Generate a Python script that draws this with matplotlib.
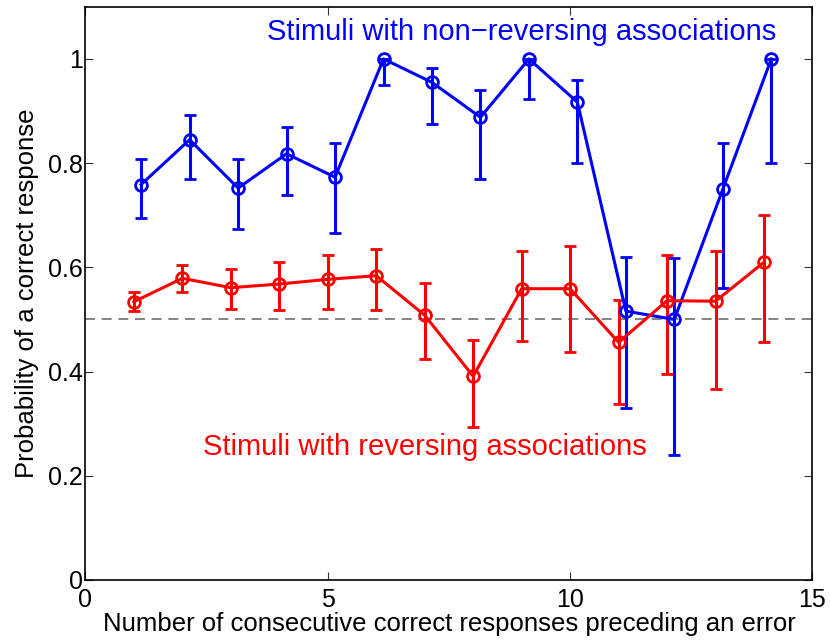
import matplotlib
matplotlib.use('Agg')
import matplotlib.pyplot as plt
import numpy as np

# Data
runs = [1, 2, 3, 4, 5, 6, 7, 8, 9, 10, 11, 12, 13, 14]

nonrev_mean = [0.759, 0.845, 0.752, 0.818, 0.773, 1.0, 0.955, 0.888, 1.0, 0.917, 0.516, 0.50, 0.750, 1.0]
nonrev_hi = [0.807, 0.892, 0.807, 0.869, 0.839, 1.0, 0.982, 0.941, 1.0, 0.960, 0.619, 0.617, 0.839, 1.0]
nonrev_lo = [0.694, 0.770, 0.673, 0.738, 0.666, 0.950, 0.875, 0.770, 0.923, 0.800, 0.330, 0.239, 0.561, 0.800]

rev_mean = [0.534, 0.579, 0.561, 0.568, 0.577, 0.584, 0.508, 0.391, 0.559, 0.559, 0.456, 0.536, 0.535, 0.610]
rev_hi = [0.552, 0.605, 0.596, 0.610, 0.624, 0.635, 0.570, 0.460, 0.631, 0.641, 0.537, 0.624, 0.632, 0.701]
rev_lo = [0.516, 0.552, 0.521, 0.518, 0.520, 0.519, 0.425, 0.294, 0.459, 0.438, 0.337, 0.396, 0.366, 0.456]

plt.rcParams['font.family'] = ['Liberation Sans', 'DejaVu Sans']

fig = plt.figure(figsize=(8.3, 6.44), dpi=100)
ax = fig.add_axes([0.1029, 0.0994, 0.876, 0.890])

def draw(x, m, lo, hi, color):
    m = np.array(m)
    yerr = [m - np.array(lo), np.array(hi) - m]
    ax.errorbar(x, m, yerr=yerr, color=color, linewidth=2.2, elinewidth=2.2,
                capsize=4, capthick=2.2, marker='o', markersize=8.5,
                markerfacecolor='none', markeredgewidth=2, zorder=3)

ax.plot([0, 15], [0.5, 0.5], '--', color='#707070', linewidth=1.2, dashes=(6, 4), zorder=1)

draw(np.array(runs) + 0.15, nonrev_mean, nonrev_lo, nonrev_hi, '#0000ff')
draw(np.array(runs), rev_mean, rev_lo, rev_hi, '#ff0000')

ax.text(8.99, 1.051, 'Stimuli with non\u2212reversing associations', color='#0000ff',
        fontsize=21, ha='center', va='center')
ax.text(7.0, 0.255, 'Stimuli with reversing associations', color='#ff0000',
        fontsize=21, ha='center', va='center')

ax.set_xlim(0, 15)
ax.set_ylim(0, 1.1)
ax.set_xticks([0, 5, 10, 15])
ax.set_yticks([0, 0.2, 0.4, 0.6, 0.8, 1])
ax.set_yticklabels(['0', '0.2', '0.4', '0.6', '0.8', '1'])
ax.tick_params(direction='in', length=6, width=0.8, labelsize=18, pad=2,
               top=True, right=True, color='#333333')
ax.tick_params(axis='x', pad=6)
for s in ax.spines.values():
    s.set_linewidth(1.2)

ax.set_xlabel('Number of consecutive correct responses preceding an error', fontsize=18.5, labelpad=0)
ax.set_ylabel('Probability of a correct response', fontsize=18.5, labelpad=6.5)

fig.savefig('out.png', dpi=100)
